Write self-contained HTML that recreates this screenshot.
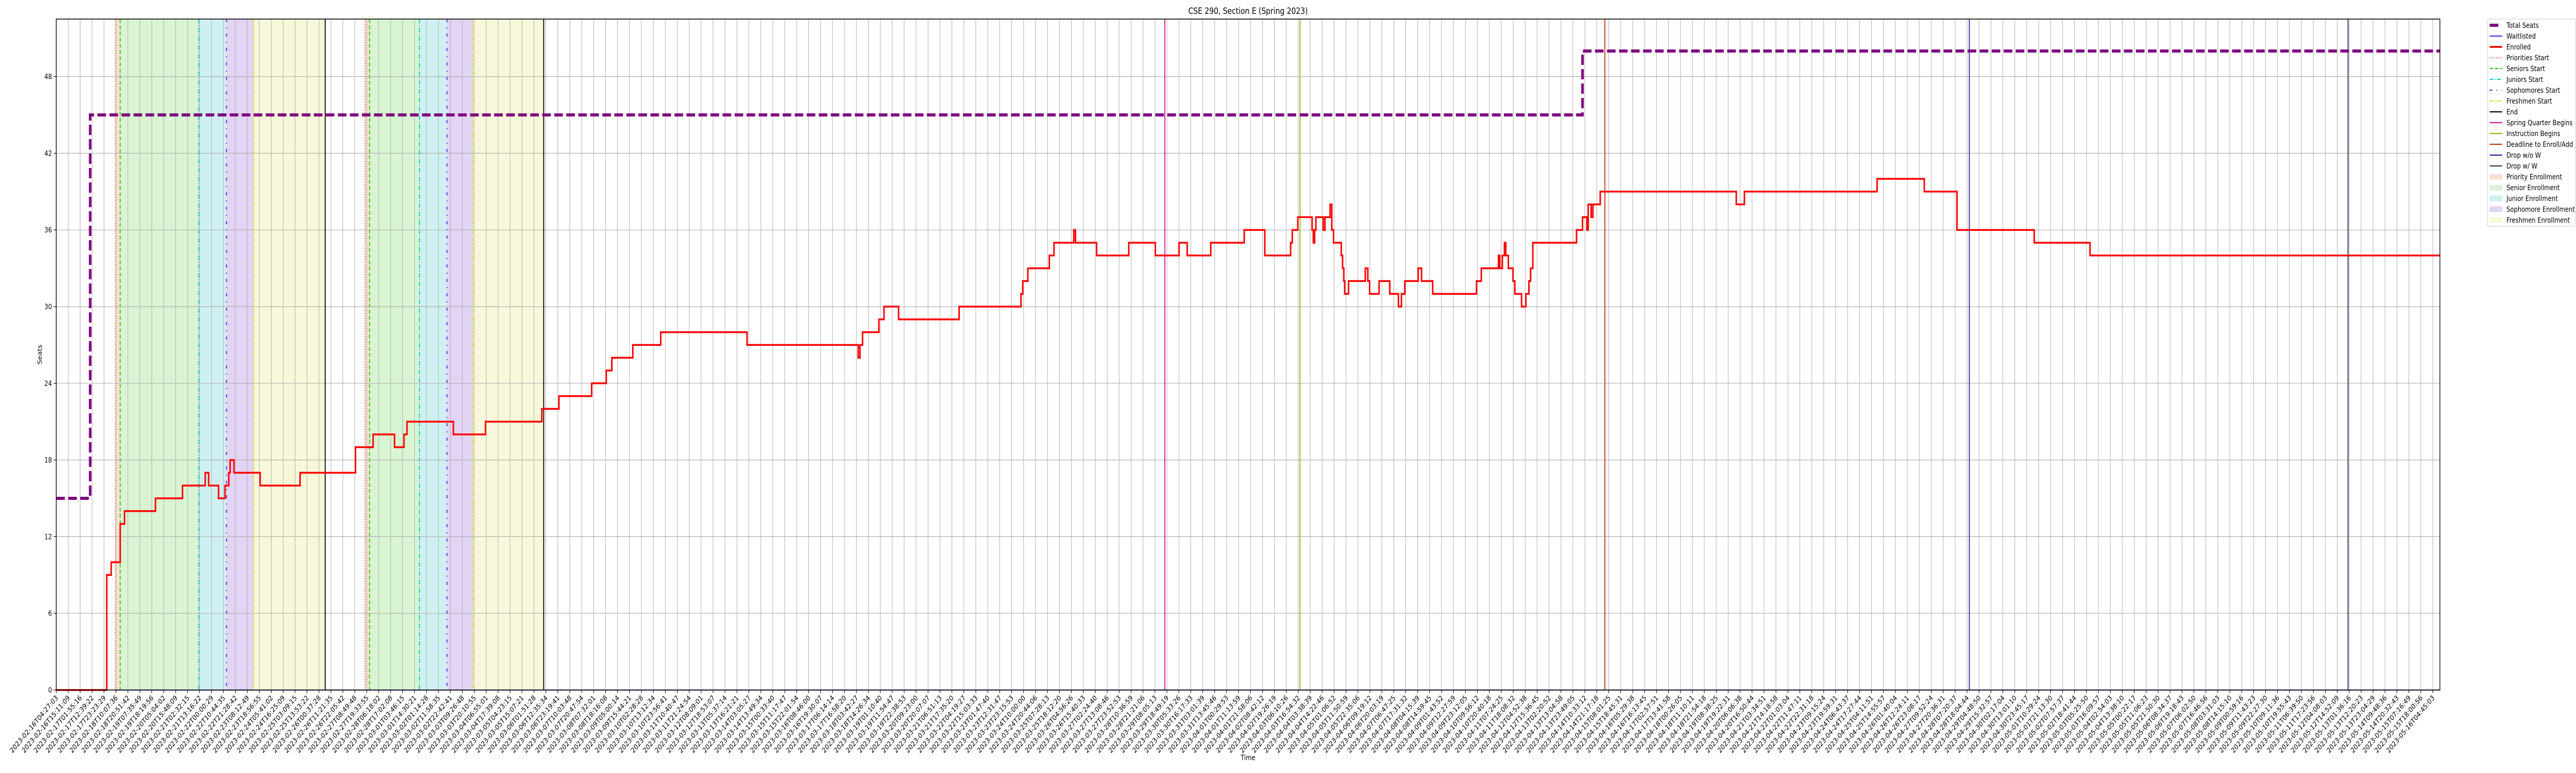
<!DOCTYPE html>
<html><head><meta charset="utf-8">
<style>
html,body{margin:0;padding:0;background:#fff;width:100%;height:100%;overflow:hidden;}
svg{display:block;width:100vw;height:100vh;overflow:hidden;font-family:"DejaVu Sans","Liberation Sans",sans-serif;}
</style></head>
<body>
<svg id="chart" viewBox="0 0 6000 1500" preserveAspectRatio="none" xmlns="http://www.w3.org/2000/svg">
<defs><clipPath id="pageclip"><rect x="0" y="0" width="6000" height="1500"/></clipPath></defs>
<g id="root" clip-path="url(#pageclip)"></g>
</svg>
<script>
// ---- data (x in hours since 2023-02-16T04:27:03) ----
const enrolledHours = [0,45.4,49.4,57.5,61.4,89.2,113.5,133.9,137.0,145.9,151.7,155.1,156.3,159.8,183.3,219.2,269.0,284.8,304.1,312.6,315.3,357.0,385.9,436.5,451.9,481.3,494.4,499.4,518.3,543.4,621.0,720.9,722.5,724.8,739.5,744.1,757.2,811.6,867.2,868.8,873.4,892.7,896.9,914.7,916.2,935.2,964.1,988.0,1009.3,1016.6,1037.8,1067.9,1086.4,1109.6,1111.1,1116.1,1128.9,1130.0,1131.2,1132.3,1138.9,1140.5,1145.1,1146.6,1148.2,1155.1,1156.3,1157.4,1158.2,1161.7,1176.7,1179.0,1180.6,1189.1,1198.7,1206.5,1209.2,1212.2,1224.2,1227.3,1237.3,1276.7,1281.0,1296.4,1297.6,1299.9,1301.8,1303.0,1305.3,1309.5,1311.1,1317.2,1321.1,1323.8,1325.3,1327.3,1366.6,1372.0,1375.9,1377.1,1379.8,1381.3,1387.9,1510.2,1517.5,1636.8,1679.2,1708.6,1778.0,1828.2];
const enrolledValues = [0,9,10,13,14,15,16,17,16,15,16,17,18,17,16,17,19,20,19,20,21,20,21,22,23,24,25,26,27,28,27,26,27,28,29,30,29,30,31,32,33,34,35,36,35,34,35,34,35,34,35,36,34,35,36,37,36,35,36,37,36,37,38,36,35,34,33,32,31,32,33,32,31,32,31,30,31,32,33,32,31,32,33,34,33,34,35,34,33,32,31,30,31,32,33,35,36,37,36,38,37,38,39,38,39,40,39,36,35,34];
const totalSeatHours = [0,30.5,1372.0];
const totalSeatValues = [15,45,50];
const waitlistHours = [53.3];
const waitlistValues = [0];
const yTicks = [0,6,12,18,24,30,36,42,48];
const tickCount = 200;
const tickSpanHours = 2136.3;
const startTime = Date.UTC(2023,1,16,4,27,3);
const xMaxHours = 2142.7;
const yMax = 52.5;
const periodNames = ["Priority Enrollment","Senior Enrollment","Junior Enrollment","Sophomore Enrollment","Freshmen Enrollment"];
const period1 = [53.3,57.5,128.1,153.0,177.5,241.8];
const period2 = [277.5,281.7,326.5,351.2,374.7,438.2];
const eventNames = ["Spring Quarter Begins","Instruction Begins","Deadline to Enroll/Add","Drop w/o W","Drop w/ W"];
const eventHours = [996.5,1118.1,1392.1,1719.7,2060.1];

// ---- layout ----
const L=131,R=5683,T=37,B=1339;
const NS="http://www.w3.org/2000/svg";
const svg=document.getElementById('root');
function X(h){return L+(h/xMaxHours)*(R-L);}
function Y(v){return B-(v/yMax)*(B-T);}
function el(tag,attrs,parent){const e=document.createElementNS(NS,tag);for(const k in attrs)e.setAttribute(k,attrs[k]);(parent||svg).appendChild(e);return e;}

const shadeCols=["#f6e0d6","#d9f4d2","#cff0f2","#e2d4f5","#f7f8d9"];
const startCols=["#e8703a","#33cc11","#11cccc","#6622dd","#dddd22"];
const startDash=["2,3","8,4","9,3,2,3","6,10,2,10","7,2,2,2,2,2"];
const startNames=["priorities-start","seniors-start","juniors-start","sophomores-start","freshmen-start"];
const eventCols=["#dd1199","#88bb11","#cc3311","#2d2a9a","#2d3a5e"];

[period1,period2].forEach((p,pi)=>{
  for(let i=0;i<5;i++){
    const r=el('rect',{x:X(p[i]),y:T,width:X(p[i+1])-X(p[i]),height:B-T,fill:shadeCols[i]});
    
    
  }
});
const grid=el('g',{stroke:'#b0b0b0','stroke-width':1.2});


for(let i=0;i<tickCount;i++){const x=X(i*tickSpanHours/(tickCount-1));el('line',{x1:x,x2:x,y1:T,y2:B},grid);}
yTicks.forEach(v=>{el('line',{x1:L,x2:R,y1:Y(v),y2:Y(v)},grid);});

[period1,period2].forEach((p,pi)=>{
  for(let i=0;i<5;i++){
    const ln=el('line',{x1:X(p[i]),x2:X(p[i]),y1:T,y2:B,stroke:startCols[i],'stroke-width':2.2,'stroke-dasharray':startDash[i]});
    
    
  }
  const e=el('line',{x1:X(p[5]),x2:X(p[5]),y1:T,y2:B,stroke:'#000','stroke-width':2.2});
  
  
});
eventHours.forEach((h,i)=>{
  const ln=el('line',{x1:X(h),x2:X(h),y1:T,y2:B,stroke:eventCols[i],'stroke-width':2.2});
  
  
});

function stepPath(xs,vs,endH){
  let d='M'+X(xs[0])+','+Y(vs[0]);
  for(let i=1;i<xs.length;i++){d+=' H'+X(xs[i])+' V'+Y(vs[i]);}
  d+=' H'+X(endH);return d;
}
const wl=el('path',{d:stepPath(waitlistHours,waitlistValues,xMaxHours),fill:'none',stroke:'#5a5af0','stroke-width':2});


const en=el('path',{d:stepPath(enrolledHours,enrolledValues,xMaxHours),fill:'none',stroke:'#ff0000','stroke-width':3.5});


const ts=el('path',{d:stepPath(totalSeatHours,totalSeatValues,xMaxHours),fill:'none',stroke:'#800080','stroke-width':6,'stroke-dasharray':'20,8'});



const fr=el('rect',{x:L,y:T,width:R-L,height:B-T,fill:'none',stroke:'#000','stroke-width':1.6});



yTicks.forEach(v=>{
  el('line',{x1:L-6,x2:L,y1:Y(v),y2:Y(v),stroke:'#000','stroke-width':1.2});
  const t=el('text',{x:L-10,y:Y(v)+5,'text-anchor':'end','font-size':13.9,fill:'#000'});
  t.textContent=v;
  
  
});
function fmt(ms){const d=new Date(ms);const p=n=>String(n).padStart(2,'0');
  return d.getUTCFullYear()+'-'+p(d.getUTCMonth()+1)+'-'+p(d.getUTCDate())+'T'+p(d.getUTCHours())+':'+p(d.getUTCMinutes())+':'+p(d.getUTCSeconds());}
for(let i=0;i<tickCount;i++){
  const h=i*tickSpanHours/(tickCount-1);const x=X(h);
  el('line',{x1:x,x2:x,y1:B,y2:B+6,stroke:'#000','stroke-width':1.2});
  const t=el('text',{x:0,y:0,'text-anchor':'end','font-size':13.9,fill:'#000',transform:'translate('+(x+5)+','+(B+16)+') rotate(-45)'});
  t.textContent=fmt(startTime+h*3600000);
  
  
}
const title=el('text',{x:(L+R)/2,y:27,'text-anchor':'middle','font-size':16.7,fill:'#000'});
title.textContent='CSE 290, Section E (Spring 2023)';


const yl=el('text',{x:0,y:0,'text-anchor':'middle','font-size':13.9,fill:'#000',transform:'translate(97,'+((T+B)/2)+') rotate(-90)'});
yl.textContent='Seats';


const xl=el('text',{x:(L+R)/2,y:1475,'text-anchor':'middle','font-size':13.9,fill:'#000'});
xl.textContent='Time';



const lg=el('g',{});


el('rect',{x:5794,y:37,width:205,height:402,rx:3,fill:'#fff',stroke:'#d0d0d0','stroke-width':1.2},lg);
const legendLabels=["Total Seats","Waitlisted","Enrolled","Priorities Start","Seniors Start","Juniors Start","Sophomores Start","Freshmen Start","End","Spring Quarter Begins","Instruction Begins","Deadline to Enroll/Add","Drop w/o W","Drop w/ W","Priority Enrollment","Senior Enrollment","Junior Enrollment","Sophomore Enrollment","Freshmen Enrollment"];
const legendStroke=["#800080","#2222ff","#ff0000",...startCols,"#000",...eventCols];
const legendDash=["","","",...startDash,"","","","","",""];
const legendWidth=[6,2,3.5,2.2,2.2,2.2,2.2,2.2,2.2,2.2,2.2,2.2,2.2,2.2];
legendLabels.forEach((lab,i)=>{
  const cy=49+i*21;
  const g=el('g',{},lg);
  
  
  if(i<14){
    el('line',{x1:5799,x2:(i===0?5819:5828),y1:cy,y2:cy,stroke:legendStroke[i],'stroke-width':legendWidth[i],'stroke-dasharray':legendDash[i]||'none'},g);
  } else {
    el('rect',{x:5799,y:cy-5,width:29,height:10,fill:shadeCols[i-14],stroke:shadeCols[i-14]},g);
  }
  const t=el('text',{x:5838,y:cy+5,'font-size':13.9,fill:'#000'},g);
  t.textContent=lab;
});
</script>
</body></html>
